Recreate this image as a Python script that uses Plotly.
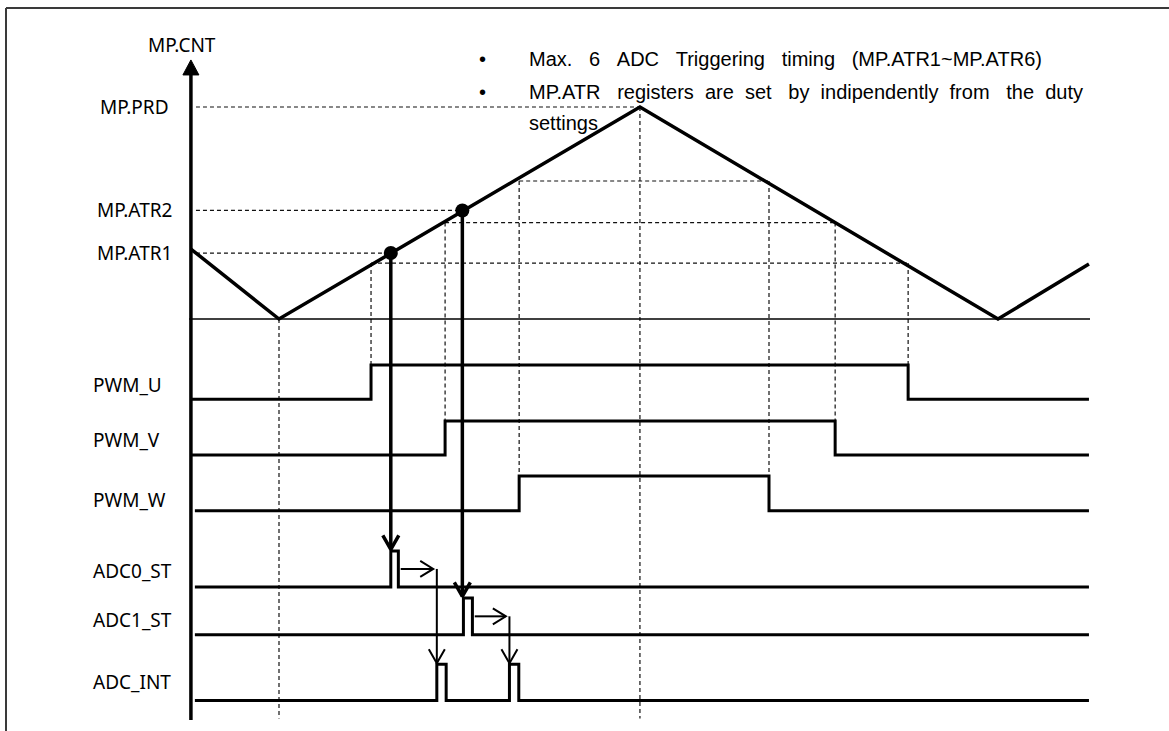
import plotly.graph_objects as go

W, H = 1169, 731

# ---------------- data ----------------
# time in counter ticks (first valley = 0, peak = MP.PRD)
cnt_t = [-24.5, 0.0, 100.4, 200.0, 225.3]
cnt_v = [33.0, 0.0, 100.0, 0.0, 25.9]

reg_labels = ["MP.PRD", "MP.ATR2", "MP.ATR1"]
reg_values = [100.0, 51.2, 31.1]
reg_hit_t = [100.4, 51.0, 31.1]

atr_times = [31.1, 51.0]
atr_values = [31.1, 51.2]

pwm_labels = ["PWM_U", "PWM_V", "PWM_W"]
pwm_cmp = [26.4, 45.5, 65.1]
pwm_rise = [25.6, 46.2, 66.8]
pwm_fall = [175.0, 154.7, 136.3]

adc_st_labels = ["ADC0_ST", "ADC1_ST"]
adc_st_rise = [31.1, 51.3]
adc_st_fall = [33.2, 53.8]

adc_int_label = "ADC_INT"
adc_int_rise = [43.9, 64.1]
adc_int_fall = [46.5, 66.7]

guide_t = [0.0, 100.4]
guide_top = [0.0, 100.0]

note_lines = [
    "Max.\u00a0\u00a0\u00a06\u00a0\u00a0\u00a0ADC\u00a0\u00a0\u00a0Triggering\u00a0\u00a0\u00a0timing\u00a0\u00a0\u00a0(MP.ATR1~MP.ATR6)",
    "MP.ATR\u00a0\u00a0\u00a0registers\u00a0\u00a0are\u00a0\u00a0set\u00a0\u00a0\u00a0by\u00a0\u00a0indipendently\u00a0\u00a0from\u00a0\u00a0\u00a0the\u00a0\u00a0duty",
    "settings",
]

# ---------------- layout constants (diagram geometry) ----------------
PX_T, T0_PX = 3.595, 279.0
PX_C, C0_PX = 2.12, 319.0
x_range = [-T0_PX / PX_T, (W - T0_PX) / PX_T]
y_range = [(C0_PX - H) / PX_C, C0_PX / PX_C]

lane_names = pwm_labels + adc_st_labels + [adc_int_label]
lane_low = [-37.9, -64.2, -90.4, -126.4, -148.9, -180.0]
lane_high = [-21.7, -48.1, -74.1, -109.4, -131.6, -162.9]
lane_label_y = [-31.1, -57.1, -85.4, -118.9, -142.0, -171.2]
lane_start = [-24.2, -24.2, -23.4, -23.4, -23.4, -23.4]
lane_end = 225.3

axis_t, axis_bottom, axis_top = -24.5, -189.2, 122.2
base_start, base_end = -25.0, 225.6
guide_bottom = -188.5
reg_line_start = -23.1
lane_label_x = -52.3
reg_label_x = -40.3

LABEL_FONT = dict(family="Noto Sans, Open Sans, sans-serif", size=19, color="black")
NOTE_FONT = dict(family="Liberation Sans, Arial, sans-serif", size=20, color="black")
DASH = dict(color="#111111", width=1.2, dash="4px,3px")

fig = go.Figure()


def wave(start, rises, falls, end):
    t, lv = [start], [0]
    for r, f in zip(rises, falls):
        t += [r, f]
        lv += [1, 0]
    t.append(end)
    lv.append(0)
    return t, lv


def seg(x0, y0, x1, y1, color="black", width=1.0, dash=None, layer="above"):
    ln = dict(color=color, width=width)
    if dash:
        ln["dash"] = dash
    return dict(type="line", xref="x", yref="y", x0=x0, x1=x1, y0=y0, y1=y1, line=ln, layer=layer)


def line_trace(xs, ys, width):
    fig.add_trace(go.Scatter(x=xs, y=ys, mode="lines", line=dict(color="black", width=width), hoverinfo="skip"))


def chevron(xt, yt, direction, length_px, half_px):
    """open arrow head with its tip at (xt, yt)"""
    if direction == "down":
        xs = [xt - half_px / PX_T, xt, xt + half_px / PX_T]
        ys = [yt + length_px / PX_C, yt, yt + length_px / PX_C]
    else:  # right
        xs = [xt - length_px / PX_T, xt, xt - length_px / PX_T]
        ys = [yt + half_px / PX_C, yt, yt - half_px / PX_C]
    return xs + [None], ys + [None]


# ---- dashed guides ----
shapes = []
for t, top in zip(guide_t, guide_top):
    shapes.append(seg(t, top, t, guide_bottom, **DASH, layer="below"))
for v, te in zip(reg_values, reg_hit_t):
    shapes.append(seg(reg_line_start, v, te, v, **DASH, layer="below"))
for i, (c, r, f) in enumerate(zip(pwm_cmp, pwm_rise, pwm_fall)):
    shapes.append(seg(r, c, f, c, **DASH, layer="below"))
    for t in (r, f):
        shapes.append(seg(t, c, t, lane_high[i], **DASH, layer="below"))

# outer frame (top and left edges)
shapes.append(dict(type="line", xref="paper", yref="paper", x0=6 / W, x1=1, y0=1 - 8 / H, y1=1 - 8 / H, line=dict(color="#3a3a3a", width=2)))
shapes.append(dict(type="line", xref="paper", yref="paper", x0=6 / W, x1=6 / W, y0=1 - 8 / H, y1=0, line=dict(color="#3a3a3a", width=2)))

# baseline (counter = 0) and y axis
line_trace([base_start, base_end], [0, 0], 1.5)
line_trace([axis_t, axis_t], [axis_bottom, axis_top - 10 / PX_C], 3.5)

# ---- counter triangle ----
line_trace(cnt_t, cnt_v, 3.5)

# ---- digital lanes ----
lane_rises = [[r] for r in pwm_rise] + [[r] for r in adc_st_rise] + [adc_int_rise]
lane_falls = [[f] for f in pwm_fall] + [[f] for f in adc_st_fall] + [adc_int_fall]
for i, name in enumerate(lane_names):
    t, lv = wave(lane_start[i], lane_rises[i], lane_falls[i], lane_end)
    y = [lane_low[i] + v * (lane_high[i] - lane_low[i]) for v in lv]
    fig.add_trace(go.Scatter(x=t, y=y, mode="lines", line=dict(color="black", width=3, shape="hv"), hoverinfo="skip", name=name))

# ---- ATR trigger dots ----
fig.add_trace(go.Scatter(x=atr_times, y=atr_values, mode="markers", marker=dict(color="black", size=14), hoverinfo="skip"))

# ---- arrows ----
thick_x, thick_y = [], []
thin_x, thin_y = [], []
for k, (t, v) in enumerate(zip(atr_times, atr_values)):
    tip = lane_high[3 + k] + 1.5 / PX_C
    thick_x += [t, t, None]
    thick_y += [v, tip, None]
    hx, hy = chevron(t, tip, "down", 14, 8)
    thick_x += hx
    thick_y += hy

for k in range(2):
    mid = (lane_low[3 + k] + lane_high[3 + k]) / 2
    x0 = adc_st_fall[k] + 0.65
    x1 = adc_int_rise[k] - 1.0
    thin_x += [x0, x1, None]
    thin_y += [mid, mid, None]
    hx, hy = chevron(x1, mid, "right", 13, 8)
    thin_x += hx
    thin_y += hy
    tip = lane_high[5] + 1.0 / PX_C
    thin_x += [adc_int_rise[k], adc_int_rise[k], None]
    thin_y += [mid, tip, None]
    hx, hy = chevron(adc_int_rise[k], tip, "down", 14, 8)
    thin_x += hx
    thin_y += hy

line_trace(thick_x, thick_y, 3.5)
line_trace(thin_x, thin_y, 2)

# y axis arrow head (filled triangle)
ax_hx = [axis_t - 8 / PX_T, axis_t, axis_t + 8 / PX_T, axis_t - 8 / PX_T]
ax_hy = [axis_top - 15 / PX_C, axis_top, axis_top - 15 / PX_C, axis_top - 15 / PX_C]
fig.add_trace(go.Scatter(x=ax_hx, y=ax_hy, mode="lines", fill="toself", fillcolor="black",
                         line=dict(color="black", width=1), hoverinfo="skip"))

# ---- text ----
annotations = []
annotations.append(dict(x=axis_t - 2.5, y=129.3, xref="x", yref="y", text="MP.CNT", showarrow=False,
                        xanchor="center", yanchor="middle", font=LABEL_FONT))
for lab, v in zip(reg_labels, reg_values):
    annotations.append(dict(x=reg_label_x, y=v, xref="x", yref="y", text=lab, showarrow=False,
                            xanchor="center", yanchor="middle", font=LABEL_FONT))
for lab, ly in zip(lane_names, lane_label_y):
    annotations.append(dict(x=lane_label_x, y=ly, xref="x", yref="y", text=lab, showarrow=False,
                            xanchor="left", yanchor="middle", font=LABEL_FONT))

note_y_px = [59.3, 91.7, 123.3]
for i, line in enumerate(note_lines):
    annotations.append(dict(x=527 / W, y=1 - note_y_px[i] / H, xref="paper", yref="paper", text=line,
                            showarrow=False, xanchor="left", yanchor="middle", font=NOTE_FONT))
    if i < 2:
        annotations.append(dict(x=482.7 / W, y=1 - note_y_px[i] / H, xref="paper", yref="paper", text="\u2022",
                                showarrow=False, xanchor="center", yanchor="middle", font=NOTE_FONT))

fig.update_layout(
    width=W, height=H, margin=dict(l=0, r=0, t=0, b=0),
    paper_bgcolor="white", plot_bgcolor="white", showlegend=False,
    xaxis=dict(range=x_range, visible=False, fixedrange=True),
    yaxis=dict(range=y_range, visible=False, fixedrange=True),
    shapes=shapes, annotations=annotations,
)

fig.write_html("out.html", config={"displayModeBar": False},
               post_script="document.body.style.margin='0';document.body.style.overflow='hidden';")
